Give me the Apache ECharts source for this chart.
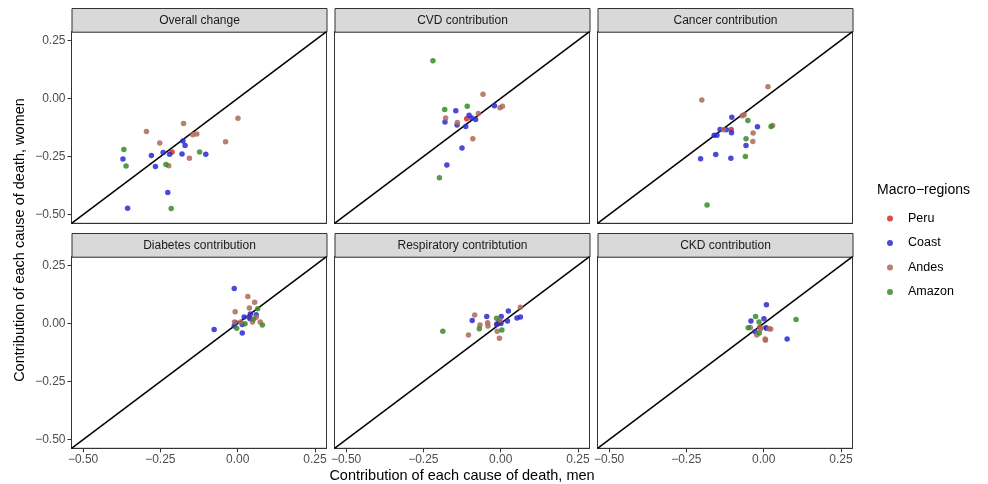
<!DOCTYPE html>
<html>
<head>
<meta charset="utf-8">
<script src="https://cdn.jsdelivr.net/npm/echarts@6/dist/echarts.min.js"></script>
<style>
  html, body { margin: 0; padding: 0; background: #fff; }
  #chart { width: 988px; height: 484px; }
</style>
</head>
<body>
<div id="chart"></div>
<script>
// panel titles, in facet order
var panels = ['Overall change', 'CVD contribution', 'Cancer contribution',
  'Diabetes contribution', 'Respiratory contribtution', 'CKD contribution'];
var regions = ['Peru', 'Coast', 'Andes', 'Amazon'];
var regionColors = ['#d42c2c', '#2a2ad0', '#ad6a58', '#3a8a2a'];
var tickValues = [-0.5, -0.25, 0, 0.25];

// [men, women] per region
var overallPeru = [[-0.212, -0.230]];
var overallCoast = [[-0.371, -0.261], [-0.356, -0.473], [-0.279, -0.246], [-0.266, -0.293],
  [-0.241, -0.233], [-0.220, -0.240], [-0.177, -0.183], [-0.170, -0.203], [-0.180, -0.239],
  [-0.103, -0.240], [-0.226, -0.405]];
var overallAndes = [[-0.295, -0.142], [-0.175, -0.108], [-0.252, -0.192], [-0.145, -0.156],
  [-0.132, -0.153], [0.001, -0.085], [-0.039, -0.186], [-0.156, -0.257], [-0.223, -0.290]];
var overallAmazon = [[-0.368, -0.220], [-0.361, -0.291], [-0.123, -0.230], [-0.232, -0.284],
  [-0.215, -0.474]];

var cvdPeru = [[-0.110, -0.087]];
var cvdCoast = [[-0.145, -0.053], [-0.180, -0.101], [-0.141, -0.114], [-0.113, -0.121],
  [-0.102, -0.072], [-0.093, -0.084], [-0.081, -0.091], [-0.020, -0.031], [-0.125, -0.213],
  [-0.174, -0.286]];
var cvdAndes = [[-0.057, 0.018], [-0.072, -0.065], [-0.002, -0.040], [0.006, -0.034],
  [-0.178, -0.084], [-0.140, -0.104], [-0.090, -0.173]];
var cvdAmazon = [[-0.219, 0.162], [-0.181, -0.047], [-0.108, -0.034], [-0.198, -0.341]];

var cancerPeru = [[-0.105, -0.134]];
var cancerCoast = [[-0.103, -0.081], [-0.020, -0.122], [-0.141, -0.134], [-0.121, -0.135],
  [-0.104, -0.148], [-0.160, -0.158], [-0.151, -0.158], [-0.057, -0.203], [-0.155, -0.241],
  [-0.106, -0.257], [-0.204, -0.260]];
var cancerAndes = [[-0.200, -0.007], [0.014, 0.050], [-0.069, -0.074], [-0.063, -0.070],
  [-0.034, -0.149], [-0.035, -0.185], [0.029, -0.116], [-0.130, -0.135]];
var cancerAmazon = [[-0.051, -0.095], [0.024, -0.121], [-0.057, -0.173], [-0.059, -0.250],
  [-0.183, -0.459]];

var diabetesPeru = [[0.038, 0.027]];
var diabetesCoast = [[-0.011, 0.151], [-0.076, -0.026], [0.015, -0.041], [0.021, 0.028],
  [0.041, 0.041], [0.060, 0.038], [0.015, -0.004], [-0.006, 0.003], [-0.011, -0.011],
  [0.040, 0.020]];
var diabetesAndes = [[0.033, 0.116], [0.055, 0.091], [0.038, 0.067], [-0.008, 0.050],
  [0.060, 0.027], [0.073, 0.006], [0.048, 0.006], [-0.010, 0.006], [0.010, 0.006]];
var diabetesAmazon = [[0.065, 0.063], [-0.003, -0.021], [0.024, -0.001], [0.051, 0.018],
  [0.080, -0.007]];

var respPeru = [[-0.011, -0.001]];
var respCoast = [[-0.092, 0.013], [-0.045, 0.030], [0.002, 0.030], [0.025, 0.054],
  [0.022, 0.011], [0.053, 0.024], [0.064, 0.028], [-0.013, -0.004], [0.001, 0.000],
  [-0.005, 0.006]];
var respAndes = [[-0.084, 0.037], [-0.104, -0.050], [-0.067, -0.007], [-0.042, 0.003],
  [-0.041, -0.011], [-0.011, -0.033], [-0.004, -0.064], [0.064, 0.070], [-0.002, 0.014]];
var respAmazon = [[-0.187, -0.034], [-0.069, -0.023], [-0.013, 0.023], [0.004, -0.028]];

var ckdPeru = [[-0.012, -0.016]];
var ckdCoast = [[0.009, 0.081], [-0.041, 0.011], [0.001, 0.020], [0.007, -0.018],
  [0.010, -0.021], [-0.028, -0.036], [0.076, -0.067]];
var ckdAndes = [[-0.043, -0.017], [0.023, -0.024], [0.017, -0.023], [-0.022, -0.050],
  [0.005, -0.067], [0.006, -0.072], [-0.010, -0.023]];
var ckdAmazon = [[-0.026, 0.030], [-0.015, 0.006], [0.105, 0.017], [-0.050, -0.018],
  [-0.014, -0.041]];

var panelData = [
  [overallPeru, overallCoast, overallAndes, overallAmazon],
  [cvdPeru, cvdCoast, cvdAndes, cvdAmazon],
  [cancerPeru, cancerCoast, cancerAndes, cancerAmazon],
  [diabetesPeru, diabetesCoast, diabetesAndes, diabetesAmazon],
  [respPeru, respCoast, respAndes, respAmazon],
  [ckdPeru, ckdCoast, ckdAndes, ckdAmazon]
];

// ggplot limits (-0.5, 0.25) with 5% expansion
var axMin = -0.5375, axMax = 0.2875;

var colLeft = [71.5, 334.5, 597.5];
var rowTop = [31.7, 256.7];
var panelW = 255, panelH = 191.6, stripH = 23.7;

var fmt = function (v) {
  return (v < 0 ? '\u2212' : '') + Math.abs(v).toFixed(2);
};

var grids = [], xAxes = [], yAxes = [], series = [], graphics = [];

for (var i = 0; i < panels.length; i++) {
  var col = i % 3, row = Math.floor(i / 3);
  grids.push({
    left: colLeft[col], top: rowTop[row], width: panelW, height: panelH,
    show: true, borderColor: '#333', borderWidth: 1, backgroundColor: '#fff'
  });
  xAxes.push({
    type: 'value', gridIndex: i, min: axMin, max: axMax, position: 'bottom',
    splitLine: { show: false },
    axisLine: { show: true, onZero: false, lineStyle: { color: '#333', width: 1 } },
    axisTick: { show: row == 1, length: 4, lineStyle: { color: '#333', width: 1 }, customValues: tickValues },
    axisLabel: { show: row == 1, margin: 5, color: '#4d4d4d', fontSize: 12,
      fontFamily: 'Liberation Sans', customValues: tickValues, formatter: fmt }
  });
  yAxes.push({
    type: 'value', gridIndex: i, min: axMin, max: axMax, position: 'left',
    splitLine: { show: false },
    axisLine: { show: true, onZero: false, lineStyle: { color: '#333', width: 1 } },
    axisTick: { show: col == 0, length: 4, lineStyle: { color: '#333', width: 1 }, customValues: tickValues },
    axisLabel: { show: col == 0, margin: 6, color: '#4d4d4d', fontSize: 12,
      fontFamily: 'Liberation Sans', customValues: tickValues, formatter: fmt }
  });

  // y = x reference line
  series.push({
    type: 'line', xAxisIndex: i, yAxisIndex: i,
    data: [[axMin, axMin], [axMax, axMax]],
    symbol: 'none', silent: true, z: 1,
    lineStyle: { color: '#000', width: 1.5 }
  });

  for (var r = 0; r < regions.length; r++) {
    series.push({
      name: regions[r], type: 'scatter', xAxisIndex: i, yAxisIndex: i,
      data: panelData[i][r], symbolSize: 5.5, z: 3,
      itemStyle: { color: regionColors[r], opacity: 0.85 }
    });
  }

  // facet strip
  graphics.push({
    type: 'group', left: colLeft[col], top: rowTop[row] - stripH,
    children: [{
      type: 'rect', shape: { x: 0, y: 0, width: panelW, height: stripH },
      style: { fill: '#d9d9d9', stroke: '#333', lineWidth: 1 }
    }, {
      type: 'text', x: panelW / 2, y: stripH / 2,
      style: { text: panels[i], fill: '#1a1a1a', font: '12px "Liberation Sans"',
        textAlign: 'center', textVerticalAlign: 'middle' }
    }]
  });
}

graphics.push({
  type: 'text', left: 877, top: 183,
  style: { text: 'Macro\u2212regions', fill: '#000', font: '14px "Liberation Sans"' }
});
graphics.push({
  type: 'text', x: 462, y: 476,
  style: { text: 'Contribution of each cause of death, men', fill: '#000',
    font: '14.5px "Liberation Sans"', textAlign: 'center', textVerticalAlign: 'middle' }
});
graphics.push({
  type: 'text', x: 20, y: 240, rotation: Math.PI / 2,
  style: { text: 'Contribution of each cause of death, women', fill: '#000',
    font: '14.5px "Liberation Sans"', textAlign: 'center', textVerticalAlign: 'middle' }
});

var chart = echarts.init(document.getElementById('chart'), null, { renderer: 'canvas' });
chart.setOption({
  backgroundColor: '#fff',
  animation: false,
  grid: grids,
  xAxis: xAxes,
  yAxis: yAxes,
  legend: {
    data: regions, orient: 'vertical', left: 882, top: 207,
    icon: 'circle', itemWidth: 6, itemHeight: 6, itemGap: 11.5,
    selectedMode: false,
    textStyle: { color: '#000', fontSize: 12.5, fontFamily: 'Liberation Sans', padding: [0, 0, 0, 10] }
  },
  graphic: graphics,
  series: series
});
</script>
</body>
</html>
